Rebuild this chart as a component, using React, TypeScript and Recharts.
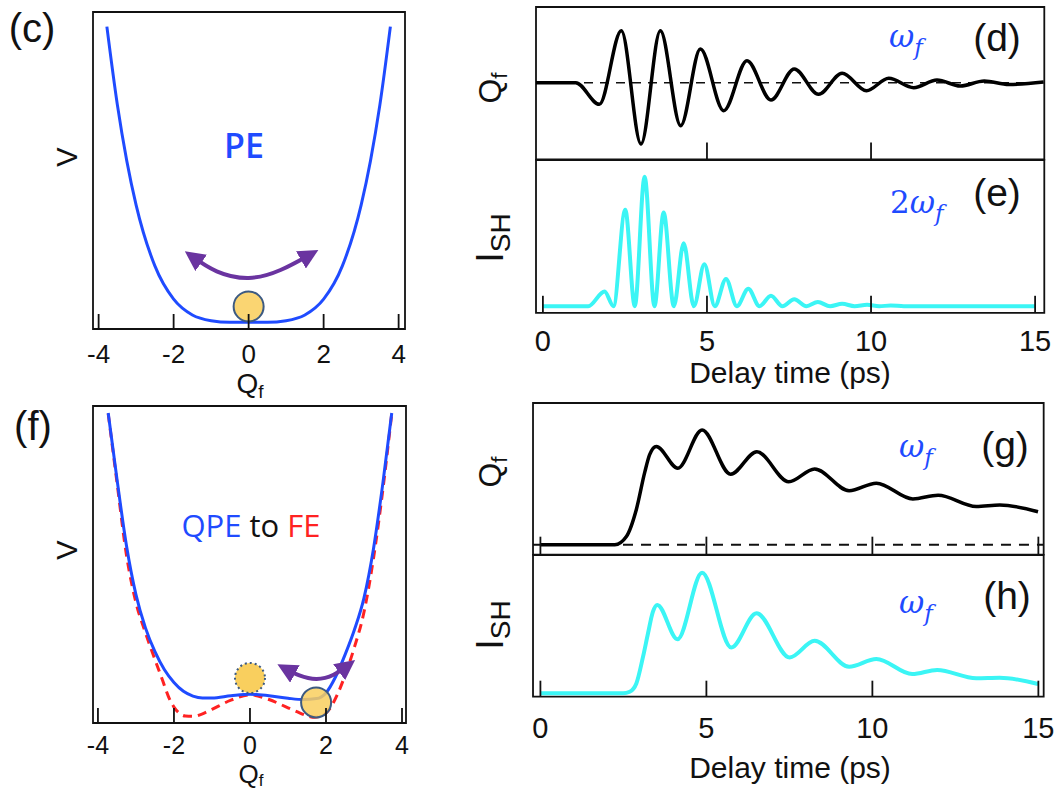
import React from "react";
import {
  LineChart,
  Line,
  XAxis,
  YAxis,
  ReferenceArea,
  ReferenceLine,
  ReferenceDot,
} from "recharts";

const SANS = "'Liberation Sans', Arial, sans-serif";
const CAL = "'Open Sans', 'Noto Sans', sans-serif";
const MATH = "'DejaVu Serif', 'Liberation Serif', serif";

const BLUE = "#1f4bff";
const RED = "#ff2222";
const CYAN = "#3bf5f5";
const PURPLE = "#6a34a0";
const BALL = "#f9cf5e";
const BALL_EDGE = "#3c5a82";

// ---------- (c) paraelectric potential V(Q_f)
const peQ = [-3.78, -3.5, -3.25, -3.0, -2.5, -2.0, -1.5, -1.0, -0.5, 0, 0.5, 1.0, 1.5, 2.0, 2.5, 3.0, 3.25, 3.5, 3.78];
const peV = [95.4, 70.7, 53.1, 39.1, 19.9, 9.4, 4.4, 2.6, 2.1, 2.1, 2.1, 2.6, 4.4, 9.4, 19.9, 39.1, 53.1, 70.7, 95.4];

// ---------- (f) quasi-paraelectric (solid) and ferroelectric (dashed) potentials
const qpeQ = [-3.73, -3.5, -3.25, -3.0, -2.75, -2.5, -2.25, -2.0, -1.75, -1.5, -1.25, -1.0, -0.5, 0, 0.5, 1.0, 1.4, 1.75, 2.0, 2.25, 2.5, 2.75, 3.0, 3.25, 3.5, 3.73];
const qpeV = [97.8, 77, 56, 40.5, 30, 22.5, 16.8, 12.8, 10.0, 8.5, 7.9, 7.9, 8.6, 9.1, 8.6, 7.8, 7.4, 7.7, 9.5, 14.5, 21.5, 29.5, 39.5, 55, 76, 97.8];
const feQ = [-3.73, -3.5, -3.25, -3.0, -2.75, -2.5, -2.3, -2.15, -2.0, -1.85, -1.7, -1.5, -1.25, -1.0, -0.5, 0, 0.5, 1.0, 1.25, 1.5, 1.7, 1.9, 2.1, 2.3, 2.5, 2.75, 3.0, 3.25, 3.5, 3.73];
const feV = [97.6, 76, 53, 38, 28.5, 20, 13.5, 8.5, 5.0, 3.0, 2.2, 2.1, 2.9, 4.3, 7.2, 8.9, 7.4, 4.8, 3.5, 2.3, 1.8, 2.3, 4.5, 9.0, 15, 24, 35, 52, 74, 97.6];

// double-headed oscillation arrows
const swingPeQ = [-1.57, -0.85, 0, 0.85, 1.72];
const swingPeV = [23.4, 18.2, 16.1, 18.6, 24.0];
const swingFeQ = [0.86, 1.3, 1.75, 2.2, 2.64];
const swingFeV = [17.6, 15.0, 13.9, 15.2, 18.7];

// balls: (c) centre, (f) initial (dotted) and displaced
const ballQ = [0, 0, 1.74];
const ballV = [7.1, 14.2, 6.5];

// ---------- (d) coherent phonon Q_f(t)
const dT = [-0.21, 1.0, 1.72, 2.39, 2.99, 3.58, 4.2, 4.8, 5.51, 6.22, 6.95, 7.66, 8.4, 9.12, 9.86, 10.54, 11.3, 12.01, 12.72, 13.45, 14.2, 15.26];
const dQ = [0, 0, -2.16, 5.2, -6.13, 5.2, -4.3, 3.37, -2.8, 2.2, -1.73, 1.37, -1.16, 0.94, -0.8, 0.44, -0.5, 0.27, -0.33, 0.17, -0.18, 0.07];

// ---------- (e) SHG intensity at 2ω_f
const eT = [0, 1.38, 1.88, 2.15, 2.51, 2.8, 3.1, 3.4, 3.68, 3.99, 4.29, 4.6, 4.92, 5.24, 5.58, 5.91, 6.26, 6.6, 6.95, 7.3, 7.66, 8.03, 8.38, 8.75, 9.12, 9.5, 9.88, 10.25, 10.6, 11.0, 15.0];
const eI = [0, 0, 0.21, 0, 1.38, 0, 1.85, 0, 1.34, 0, 0.9, 0, 0.6, 0, 0.39, 0, 0.25, 0, 0.15, 0, 0.1, 0, 0.06, 0, 0.035, 0, 0.02, 0, 0.01, 0, 0];

// ---------- (g) displaced Q_f(t)
const gT = [0, 2.24, 2.59, 2.89, 3.14, 3.29, 3.49, 4.14, 4.87, 5.73, 6.52, 7.48, 8.26, 9.3, 10.12, 11.22, 11.98, 13.13, 13.84, 14.99];
const gQ = [0, 0, 0.11, 0.47, 0.96, 1.2, 1.31, 1.02, 1.53, 0.94, 1.24, 0.84, 1.01, 0.72, 0.82, 0.61, 0.66, 0.51, 0.53, 0.44];

// ---------- (h) SHG intensity at ω_f
const hT = [0, 2.49, 2.69, 2.89, 3.09, 3.24, 3.39, 3.52, 4.13, 4.87, 5.75, 6.51, 7.51, 8.26, 9.3, 10.12, 11.2, 11.95, 13.13, 13.83, 14.99];
const hI = [0, 0, 0.03, 0.19, 0.7, 1.15, 1.57, 1.7, 1.04, 2.32, 0.88, 1.54, 0.69, 1.01, 0.51, 0.66, 0.37, 0.45, 0.29, 0.3, 0.18];

const potTicks = [-4, -2, 0, 2, 4];
const delayTicks = [0, 5, 10, 15];
const shgTicks = [0, 1, 2];

const rows = (xs: number[], ys: number[]) => xs.map((x, i) => ({ x, y: ys[i] }));

type Frame = { x: number; y: number; w: number; h: number };

// inward x ticks drawn upward from the bottom frame edge, with optional labels below
const xTickRenderer =
  (len: number, labelDy: number | null, fontSize: number) =>
  (props: any) => {
    const { x, y, payload } = props;
    return (
      <g>
        <line x1={x} y1={y} x2={x} y2={y - len} stroke="#111" strokeWidth={1.8} />
        {labelDy !== null && (
          <text
            x={x}
            y={y + labelDy}
            textAnchor="middle"
            dominantBaseline="central"
            fontSize={fontSize}
            fontFamily={SANS}
            fill="#111"
          >
            {String(payload.value)}
          </text>
        )}
      </g>
    );
  };

// inward y ticks drawn rightward from the left frame edge
const yTickRenderer = (len: number) => (props: any) => {
  const { x, y } = props;
  return <line x1={x} y1={y} x2={x + len} y2={y} stroke="#111" strokeWidth={1.8} />;
};

type PanelProps = {
  frame: Frame;
  padT?: number;
  padB?: number;
  padL?: number;
  padR?: number;
  xDomain: [number, number];
  yDomain: [number, number];
  xTicks: number[];
  xTick: any;
  yTicks?: number[];
  yTick?: any;
  children?: React.ReactNode;
};

function Panel({
  frame,
  padT = 4,
  padB = 4,
  padL = 24,
  padR = 24,
  xDomain,
  yDomain,
  xTicks,
  xTick,
  yTicks,
  yTick,
  children,
}: PanelProps) {
  return (
    <div style={{ position: "absolute", left: frame.x - padL, top: frame.y - padT }}>
      <LineChart
        width={frame.w + padL + padR}
        height={frame.h + padT + padB}
        margin={{ top: padT, right: padR, left: padL, bottom: 0 }}
      >
        <XAxis
          type="number"
          dataKey="x"
          domain={xDomain}
          ticks={xTicks}
          interval={0}
          allowDataOverflow
          height={padB}
          tickSize={0}
          tickMargin={0}
          axisLine={false}
          tickLine={false}
          tick={xTick}
        />
        <YAxis
          type="number"
          dataKey="y"
          domain={yDomain}
          ticks={yTicks && yTicks.length ? yTicks : undefined}
          interval={0}
          allowDataOverflow
          width={0}
          tickSize={0}
          tickMargin={0}
          axisLine={false}
          tickLine={false}
          tick={yTicks && yTicks.length ? yTick : false}
        />
        <ReferenceArea
          x1={xDomain[0]}
          x2={xDomain[1]}
          y1={yDomain[0]}
          y2={yDomain[1]}
          fill="none"
          fillOpacity={0}
          stroke="#111"
          strokeWidth={1.8}
          ifOverflow="visible"
        />
        {children}
      </LineChart>
    </div>
  );
}

const Sub = ({ children, size, dy }: { children: React.ReactNode; size: number; dy: number }) => (
  <tspan fontSize={size} dy={dy}>
    {children}
  </tspan>
);

export default function App() {
  return (
    <div
      style={{
        position: "absolute",
        left: 0,
        top: 0,
        width: 1061,
        height: 789,
        background: "#fff",
        overflow: "hidden",
      }}
    >
      <svg width={0} height={0} style={{ position: "absolute" }}>
        <defs>
          <marker
            id="swingHead"
            viewBox="0 0 10 10"
            refX={7}
            refY={5}
            markerUnits="userSpaceOnUse"
            markerWidth={20}
            markerHeight={20}
            orient="auto-start-reverse"
          >
            <path d="M0,0 L10,5 L0,10 z" fill={PURPLE} />
          </marker>
        </defs>
      </svg>

      {/* (c) paraelectric potential */}
      <Panel
        frame={{ x: 93, y: 12, w: 312, h: 317 }}
        padB={42}
        xDomain={[-4.15, 4.17]}
        yDomain={[0, 100]}
        xTicks={potTicks}
        xTick={xTickRenderer(15, 25, 26)}
      >
        <Line data={rows(peQ, peV)} dataKey="y" type="monotone" stroke={BLUE} strokeWidth={3} dot={false} activeDot={false} isAnimationActive={false} />
        <Line
          data={rows(swingPeQ, swingPeV)}
          dataKey="y"
          type="natural"
          stroke={PURPLE}
          strokeWidth={4}
          dot={false}
          activeDot={false}
          isAnimationActive={false}
          markerStart="url(#swingHead)"
          markerEnd="url(#swingHead)"
        />
        <ReferenceDot x={ballQ[0]} y={ballV[0]} r={15} fill={BALL} fillOpacity={0.88} stroke={BALL_EDGE} strokeWidth={2} ifOverflow="visible" />
      </Panel>

      {/* (f) quasi-paraelectric to ferroelectric potentials */}
      <Panel
        frame={{ x: 93, y: 406, w: 313, h: 317 }}
        padB={40}
        xDomain={[-4.13, 4.105]}
        yDomain={[0, 100]}
        xTicks={potTicks}
        xTick={xTickRenderer(15, 22, 25)}
      >
        <Line data={rows(feQ, feV)} dataKey="y" type="monotone" stroke={RED} strokeWidth={3} strokeDasharray="9 6" dot={false} activeDot={false} isAnimationActive={false} />
        <Line data={rows(qpeQ, qpeV)} dataKey="y" type="monotone" stroke={BLUE} strokeWidth={3} dot={false} activeDot={false} isAnimationActive={false} />
        <Line
          data={rows(swingFeQ, swingFeV)}
          dataKey="y"
          type="natural"
          stroke={PURPLE}
          strokeWidth={4}
          dot={false}
          activeDot={false}
          isAnimationActive={false}
          markerStart="url(#swingHead)"
          markerEnd="url(#swingHead)"
        />
        <ReferenceDot x={ballQ[1]} y={ballV[1]} r={15} fill={BALL} stroke={BALL_EDGE} strokeWidth={2} strokeDasharray="2 3" ifOverflow="visible" />
        <ReferenceDot x={ballQ[2]} y={ballV[2]} r={15} fill={BALL} fillOpacity={0.85} stroke={BALL_EDGE} strokeWidth={2} ifOverflow="visible" />
      </Panel>

      {/* (d) Q_f oscillation */}
      <Panel
        frame={{ x: 535.7, y: 7, w: 508.3, h: 152.5 }}
        xDomain={[-0.21, 15.28]}
        yDomain={[-7.68, 7.57]}
        xTicks={[5, 10]}
        xTick={xTickRenderer(17, null, 29)}
      >
        <ReferenceLine y={0} stroke="#111" strokeWidth={1.6} strokeDasharray="9 7" ifOverflow="visible" />
        <Line data={rows(dT, dQ)} dataKey="y" type="monotone" stroke="#000" strokeWidth={3.5} dot={false} activeDot={false} isAnimationActive={false} />
      </Panel>

      {/* (e) SHG at 2ω_f */}
      <Panel
        frame={{ x: 535.7, y: 159.5, w: 508.3, h: 152.8 }}
        padB={46}
        xDomain={[-0.21, 15.28]}
        yDomain={[-0.094, 2.089]}
        xTicks={delayTicks}
        xTick={xTickRenderer(17, 28, 29)}
        yTicks={shgTicks}
        yTick={yTickRenderer(17)}
      >
        <Line data={rows(eT, eI)} dataKey="y" type="monotone" stroke={CYAN} strokeWidth={4} dot={false} activeDot={false} isAnimationActive={false} />
      </Panel>

      {/* (g) displaced Q_f */}
      <Panel
        frame={{ x: 533.3, y: 403.3, w: 510.7, h: 151.7 }}
        xDomain={[-0.223, 15.16]}
        yDomain={[-0.133, 1.889]}
        xTicks={delayTicks}
        xTick={xTickRenderer(18, null, 29)}
        yTicks={[1]}
        yTick={yTickRenderer(20)}
      >
        <ReferenceLine y={0} stroke="#111" strokeWidth={2} strokeDasharray="10 8" ifOverflow="visible" />
        <Line data={rows(gT, gQ)} dataKey="y" type="monotone" stroke="#000" strokeWidth={3.5} dot={false} activeDot={false} isAnimationActive={false} />
      </Panel>

      {/* (h) SHG at ω_f */}
      <Panel
        frame={{ x: 533.3, y: 555, w: 510.7, h: 141.7 }}
        padB={48}
        xDomain={[-0.223, 15.16]}
        yDomain={[-0.065, 2.66]}
        xTicks={delayTicks}
        xTick={xTickRenderer(16, 31, 29)}
        yTicks={shgTicks}
        yTick={yTickRenderer(18)}
      >
        <Line data={rows(hT, hI)} dataKey="y" type="monotone" stroke={CYAN} strokeWidth={4} dot={false} activeDot={false} isAnimationActive={false} />
      </Panel>

      {/* titles, axis names and annotations */}
      <svg
        width={1061}
        height={789}
        style={{ position: "absolute", left: 0, top: 0, pointerEvents: "none" }}
      >
        <g fontFamily={SANS} fill="#111">
          <text x={32} y={28} fontSize={40} textAnchor="middle" dominantBaseline="central">(c)</text>
          <text x={33} y={426} fontSize={40} textAnchor="middle" dominantBaseline="central">(f)</text>
          <text x={997} y={37} fontSize={39} textAnchor="middle" dominantBaseline="central">(d)</text>
          <text x={997} y={192} fontSize={39} textAnchor="middle" dominantBaseline="central">(e)</text>
          <text x={1005} y={445} fontSize={39} textAnchor="middle" dominantBaseline="central">(g)</text>
          <text x={1007} y={595} fontSize={39} textAnchor="middle" dominantBaseline="central">(h)</text>

          <text x={67} y={157} fontSize={29} textAnchor="middle" dominantBaseline="central" transform="rotate(-90 67 157)">V</text>
          <text x={67} y={550} fontSize={29} textAnchor="middle" dominantBaseline="central" transform="rotate(-90 67 550)">V</text>

          <text x={250} y={393} fontSize={28} textAnchor="middle">
            Q<Sub size={19} dy={5}>f</Sub>
          </text>
          <text x={251} y={783} fontSize={26} textAnchor="middle">
            Q<Sub size={17} dy={3}>f</Sub>
          </text>

          <text x={501} y={88} fontSize={32} textAnchor="middle" transform="rotate(-90 501 88)">
            Q<Sub size={22} dy={6}>f</Sub>
          </text>
          <text x={501} y={472} fontSize={32} textAnchor="middle" transform="rotate(-90 501 472)">
            Q<Sub size={22} dy={6}>f</Sub>
          </text>
          <text x={503} y={238} fontSize={38} textAnchor="middle" transform="rotate(-90 503 238)">
            I<Sub size={28} dy={7}>SH</Sub>
          </text>
          <text x={503} y={625} fontSize={38} textAnchor="middle" transform="rotate(-90 503 625)">
            I<Sub size={28} dy={7}>SH</Sub>
          </text>

          <text x={790} y={372} fontSize={30} textAnchor="middle" dominantBaseline="central">Delay time (ps)</text>
          <text x={790} y={767} fontSize={30} textAnchor="middle" dominantBaseline="central">Delay time (ps)</text>
        </g>

        <text x={244} y={145} fontSize={34} fontFamily={CAL} fontWeight={600} fill={BLUE} textAnchor="middle" dominantBaseline="central">PE</text>
        <text x={251} y={525} fontSize={31} fontFamily={CAL} fontWeight={500} textAnchor="middle" dominantBaseline="central">
          <tspan fill={BLUE}>QPE</tspan>
          <tspan fill="#111"> to </tspan>
          <tspan fill={RED}>FE</tspan>
        </text>

        <g fontFamily={MATH} fontStyle="italic" fill={BLUE}>
          <text x={889} y={47} fontSize={31}>
            ω<Sub size={23} dy={8}>f</Sub>
          </text>
          <text x={890} y={213} fontSize={31}>
            <tspan fontStyle="normal">2</tspan>ω<Sub size={23} dy={8}>f</Sub>
          </text>
          <text x={899} y={457} fontSize={31}>
            ω<Sub size={23} dy={8}>f</Sub>
          </text>
          <text x={899} y={613} fontSize={31}>
            ω<Sub size={23} dy={8}>f</Sub>
          </text>
        </g>
      </svg>
    </div>
  );
}
